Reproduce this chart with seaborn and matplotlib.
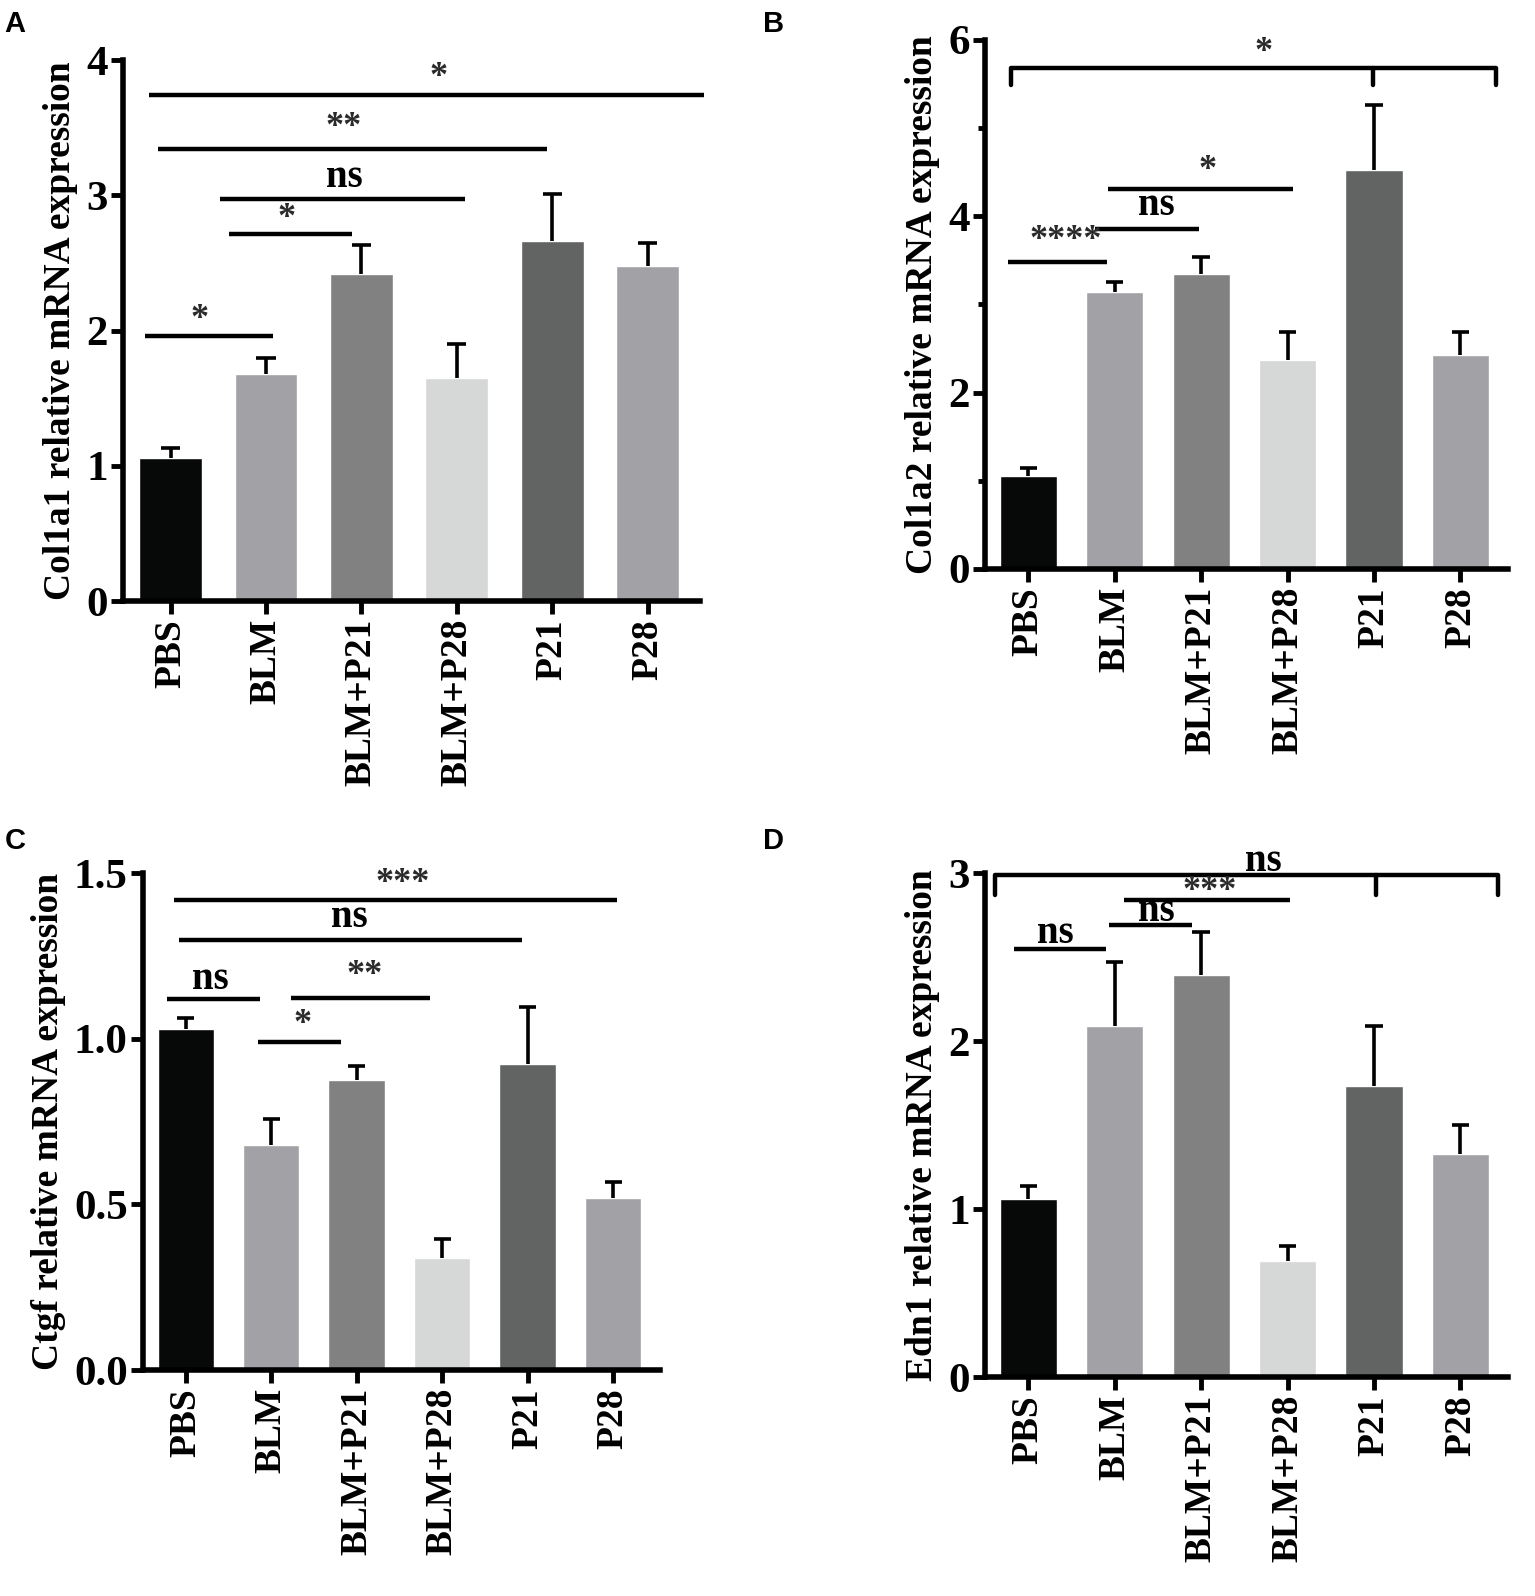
import numpy as np
import seaborn as sns
import matplotlib.pyplot as plt

# ----------------------------
# DATA
# ----------------------------
groups = ["PBS", "BLM", "BLM+P21", "BLM+P28", "P21", "P28"]
bar_colors = ["#070909", "#a2a1a6", "#808180", "#d6d7d7", "#626363", "#a2a1a6"]

col1a1_mean = [1.06, 1.68, 2.42, 1.65, 2.66, 2.48]
col1a1_upper = [1.13, 1.80, 2.63, 1.90, 3.01, 2.65]

col1a2_mean = [1.05, 3.14, 3.34, 2.37, 4.52, 2.43]
col1a2_upper = [1.14, 3.25, 3.54, 2.69, 5.26, 2.69]

ctgf_mean = [1.03, 0.68, 0.875, 0.337, 0.925, 0.519]
ctgf_upper = [1.063, 0.758, 0.918, 0.396, 1.097, 0.566]

edn1_mean = [1.06, 2.09, 2.39, 0.69, 1.73, 1.33]
edn1_upper = [1.14, 2.47, 2.65, 0.78, 2.09, 1.50]

# significance lines: (x_start, x_end, y)   texts: (x, y, label)
col1a1_lines = [(-0.23, 5.59, 3.74), (-0.13, 3.95, 3.34), (0.52, 3.09, 2.97),
                (0.61, 1.90, 2.71), (-0.27, 1.07, 1.96)]
col1a1_texts = [(2.81, 3.87, "*"), (1.81, 3.50, "**"), (1.82, 3.13, "ns"),
                (1.22, 2.83, "*"), (0.30, 2.08, "*")]
col1a1_brackets = []

col1a2_lines = [(-0.23, 0.91, 3.48), (0.77, 1.98, 3.86), (0.92, 3.06, 4.31)]
col1a2_texts = [(2.72, 5.86, "*"), (0.43, 3.72, "****"), (1.48, 4.12, "ns"), (2.08, 4.52, "*")]
col1a2_brackets = [(-0.2, 5.41, 5.68, 5.49, 3.99)]

ctgf_lines = [(-0.14, 5.05, 1.42), (-0.08, 3.93, 1.297), (-0.22, 0.87, 1.12),
              (1.23, 2.86, 1.124), (0.84, 1.82, 0.991)]
ctgf_texts = [(2.54, 1.467, "***"), (1.91, 1.365, "ns"), (0.29, 1.18, "ns"),
              (2.09, 1.19, "**"), (1.37, 1.044, "*")]
ctgf_brackets = []

edn1_lines = [(1.11, 3.03, 2.84), (0.94, 1.90, 2.69), (-0.17, 0.90, 2.55)]
edn1_texts = [(2.72, 3.07, "ns"), (2.10, 2.89, "***"), (1.48, 2.77, "ns"), (0.31, 2.64, "ns")]
edn1_brackets = [(-0.38, 5.43, 2.99, 2.87, 4.02)]

# ----------------------------
# STYLE
# ----------------------------
sns.set_style("ticks", {"axes.edgecolor": "black", "xtick.color": "black",
                        "ytick.color": "black", "text.color": "black",
                        "axes.labelcolor": "black"})
plt.rcParams["font.family"] = ["Liberation Serif", "DejaVu Serif"]
plt.rcParams["font.weight"] = "bold"

LW = 3.2


def draw_panel(ax, means, upper, ylabel, ymax, yticks, yminor, lines, texts, brackets):
    sns.barplot(x=groups, y=means, hue=groups, palette=bar_colors, legend=False,
                width=0.66, saturation=1, ax=ax)
    x = np.arange(len(groups))
    ax.vlines(x, means, upper, color="black", lw=2.6, zorder=3)
    ax.hlines(upper, x - 0.1, x + 0.1, color="black", lw=2.6, zorder=3)

    ax.set_xlim(-0.5, 5.55)
    ax.set_ylim(0, ymax)
    ax.set_yticks(yticks)
    if yminor:
        ax.set_yticks(yminor, minor=True)
    ax.set_yticklabels([f"{t:g}" if ymax > 2 else f"{t:.1f}" for t in yticks])

    sns.despine(ax=ax)
    for s in ["left", "bottom"]:
        ax.spines[s].set_linewidth(4)
        ax.spines[s].set_color("black")
    ax.tick_params(axis="both", which="major", width=3.5, length=9, pad=4, colors="black")
    ax.tick_params(axis="y", which="major", labelsize=31, pad=2)
    ax.tick_params(axis="y", which="minor", width=3.5, length=5, colors="black")
    ax.set_xticks(x)
    ax.set_xticklabels(groups, rotation=90, fontweight="bold", fontsize=27)
    for lab in ax.get_yticklabels():
        lab.set_fontweight("bold")
    ax.set_ylabel(ylabel, fontsize=27, fontweight="bold", labelpad=6)
    ax.set_xlabel("")

    for x1, x2, y in lines:
        ax.plot([x1, x2], [y, y], color="black", lw=LW, clip_on=False,
                solid_capstyle="butt")
    for x1, x2, y, ydrop, xm in brackets:
        ax.plot([x1, x1, x2, x2], [ydrop, y, y, ydrop], color="black", lw=LW,
                clip_on=False)
        ax.plot([xm, xm], [y, ydrop], color="black", lw=LW, clip_on=False)
    for tx, ty, lab in texts:
        if lab == "ns":
            ax.text(tx, ty, lab, ha="center", va="center", fontsize=28,
                    fontweight="bold", clip_on=False)
        else:
            ax.text(tx, ty, lab, ha="center", va="center", fontsize=26,
                    fontweight="bold", color="#2a2a2a", clip_on=False)


fig = plt.figure(figsize=(15.35, 15.96), dpi=100)

ax_a = fig.add_axes([0.0801, 0.6234, 0.3759, 0.3390])
ax_b = fig.add_axes([0.6417, 0.6435, 0.3407, 0.3315])
ax_c = fig.add_axes([0.0932, 0.1416, 0.3368, 0.3114])
ax_d = fig.add_axes([0.6417, 0.1372, 0.3407, 0.3158])

draw_panel(ax_a, col1a1_mean, col1a1_upper, "Col1a1 relative mRNA expression",
           4, [0, 1, 2, 3, 4], None, col1a1_lines, col1a1_texts, col1a1_brackets)
draw_panel(ax_b, col1a2_mean, col1a2_upper, "Col1a2 relative mRNA expression",
           6, [0, 2, 4, 6], [1, 3, 5], col1a2_lines, col1a2_texts, col1a2_brackets)
draw_panel(ax_c, ctgf_mean, ctgf_upper, "Ctgf relative mRNA expression",
           1.5, [0.0, 0.5, 1.0, 1.5], None, ctgf_lines, ctgf_texts, ctgf_brackets)
draw_panel(ax_d, edn1_mean, edn1_upper, "Edn1 relative mRNA expression",
           3, [0, 1, 2, 3], None, edn1_lines, edn1_texts, edn1_brackets)

for letter, fx, fy in [("A", 0.003, 0.994), ("B", 0.497, 0.994),
                       ("C", 0.003, 0.482), ("D", 0.497, 0.482)]:
    fig.text(fx, fy, letter, fontsize=21, fontweight="bold", va="top", ha="left",
             family=["Liberation Sans", "DejaVu Sans"])

plt.savefig("out.png", dpi=100)
plt.close()
